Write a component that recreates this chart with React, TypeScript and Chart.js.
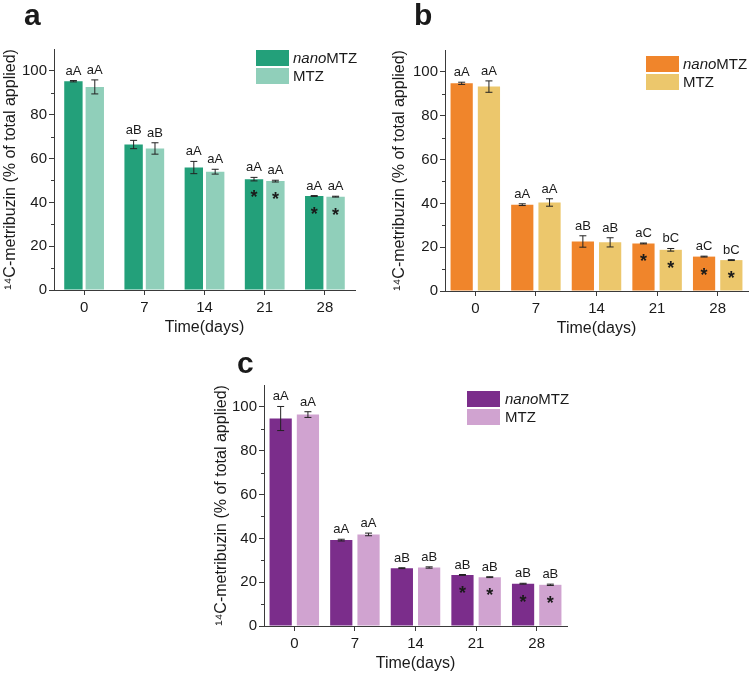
import React, { useEffect, useRef } from 'react';
import { Chart, registerables } from 'chart.js';

Chart.register(...registerables);

// ---------- data ----------
const days = ['0', '7', '14', '21', '28'];
const yTicks = [0, 20, 40, 60, 80, 100];
const yMinorTicks = [10, 30, 50, 70, 90];
const seriesNames = ['nanoMTZ', 'MTZ'];
const yTitle = '¹⁴C-metribuzin (% of total applied)';
const xTitle = 'Time(days)';

// panel a
const aNano = [95.3, 66.4, 55.9, 50.6, 42.9];
const aNanoErr = [0.3, 1.9, 2.8, 0.8, 0.2];
const aMtz = [92.7, 64.6, 54.0, 49.7, 42.6];
const aMtzErr = [3.2, 2.6, 1.1, 0.4, 0.2];
const aNanoLetters = ['aA', 'aB', 'aA', 'aA', 'aA'];
const aMtzLetters = ['aA', 'aB', 'aA', 'aA', 'aA'];
const aStars = [false, false, false, true, true];

// panel b
const bNano = [94.8, 39.4, 22.6, 21.7, 15.7];
const bNanoErr = [0.5, 0.4, 2.6, 0.2, 0.2];
const bMtz = [93.3, 40.4, 22.2, 18.8, 14.1];
const bMtzErr = [2.6, 1.7, 2.1, 0.6, 0.2];
const bNanoLetters = ['aA', 'aA', 'aB', 'aC', 'aC'];
const bMtzLetters = ['aA', 'aA', 'aB', 'bC', 'bC'];
const bStars = [false, false, false, true, true];

// panel c
const cNano = [94.7, 39.2, 26.4, 23.3, 19.3];
const cNanoErr = [5.5, 0.4, 0.2, 0.2, 0.2];
const cMtz = [96.5, 41.8, 26.7, 22.3, 18.8];
const cMtzErr = [1.3, 0.6, 0.3, 0.2, 0.3];
const cNanoLetters = ['aA', 'aA', 'aB', 'aB', 'aB'];
const cMtzLetters = ['aA', 'aA', 'aB', 'aB', 'aB'];
const cStars = [false, false, false, true, true];

// ---------- styling / layout ----------
const FONT = "'Liberation Sans', Arial, Helvetica, sans-serif";
const AXIS = '#3a3a3a';
const INK = '#1a1a1a';

type PanelCfg = {
  letter: string;
  left: number; top: number; width: number; height: number;
  area: { left: number; top: number; right: number; bottom: number };
  yTitlePad: number; xTitlePad: number;
  legend: { x: number; y: number; tx: number };
  letterPos: { x: number; y: number };
  colors: [string, string];
  catPct: number; barPct: number;
  nano: number[]; nanoErr: number[]; mtz: number[]; mtzErr: number[];
  nanoLetters: string[]; mtzLetters: string[]; stars: boolean[];
};

const panels: PanelCfg[] = [
  {
    letter: 'a', left: 0, top: 0, width: 375, height: 338,
    area: { left: 54, top: 49, right: 355, bottom: 290 },
    yTitlePad: 1, xTitlePad: 1,
    legend: { x: 256, y: 50, tx: 293 },
    letterPos: { x: 24, y: 25 },
    colors: ['#23a07a', '#90cfba'],
    catPct: 0.71, barPct: 0.86,
    nano: aNano, nanoErr: aNanoErr, mtz: aMtz, mtzErr: aMtzErr,
    nanoLetters: aNanoLetters, mtzLetters: aMtzLetters, stars: aStars,
  },
  {
    letter: 'b', left: 375, top: 0, width: 375, height: 338,
    area: { left: 70, top: 50, right: 373, bottom: 291 },
    yTitlePad: 15, xTitlePad: 0,
    legend: { x: 271, y: 56, tx: 308 },
    letterPos: { x: 39, y: 25 },
    colors: ['#f0852b', '#ecc76c'],
    catPct: 0.9, barPct: 0.815,
    nano: bNano, nanoErr: bNanoErr, mtz: bMtz, mtzErr: bMtzErr,
    nanoLetters: bNanoLetters, mtzLetters: bMtzLetters, stars: bStars,
  },
  {
    letter: 'c', left: 180, top: 338, width: 400, height: 336,
    area: { left: 84, top: 47, right: 387, bottom: 288 },
    yTitlePad: 32, xTitlePad: 1,
    legend: { x: 287, y: 53, tx: 325 },
    letterPos: { x: 57, y: 35 },
    colors: ['#7b2d8b', '#d0a3d0'],
    catPct: 0.9, barPct: 0.815,
    nano: cNano, nanoErr: cNanoErr, mtz: cMtz, mtzErr: cMtzErr,
    nanoLetters: cNanoLetters, mtzLetters: cMtzLetters, stars: cStars,
  },
];

function makePlugin(cfg: PanelCfg) {
  const errs = [cfg.nanoErr, cfg.mtzErr];
  const vals = [cfg.nano, cfg.mtz];
  const letters = [cfg.nanoLetters, cfg.mtzLetters];
  return {
    id: 'annot-' + cfg.letter,
    afterDatasetsDraw(chart: any) {
      const ctx = chart.ctx as CanvasRenderingContext2D;
      const ys = chart.scales.y;
      ctx.save();
      for (let d = 0; d < 2; d++) {
        const meta = chart.getDatasetMeta(d);
        meta.data.forEach((bar: any, i: number) => {
          const v = vals[d][i];
          const e = errs[d][i];
          const x = bar.x;
          const yHi = ys.getPixelForValue(v + e);
          const yLo = ys.getPixelForValue(v - e);
          // error bar
          ctx.strokeStyle = '#222';
          ctx.lineWidth = 1;
          ctx.beginPath();
          ctx.moveTo(x, yHi);
          ctx.lineTo(x, yLo);
          ctx.moveTo(x - 3.5, yHi);
          ctx.lineTo(x + 3.5, yHi);
          ctx.moveTo(x - 3.5, yLo);
          ctx.lineTo(x + 3.5, yLo);
          ctx.stroke();
          // significance letters
          ctx.fillStyle = INK;
          ctx.font = `13px ${FONT}`;
          ctx.textAlign = 'center';
          ctx.textBaseline = 'alphabetic';
          ctx.fillText(letters[d][i], x, Math.min(yHi, bar.y) - 6);
          // star
          if (cfg.stars[i]) {
            ctx.font = `bold 18px ${FONT}`;
            ctx.fillText('*', x, bar.y + 24);
          }
        });
      }
      ctx.restore();
    },
    afterDraw(chart: any) {
      const ctx = chart.ctx as CanvasRenderingContext2D;
      const ys = chart.scales.y;
      const left = chart.chartArea.left;
      ctx.save();
      // minor ticks
      ctx.strokeStyle = AXIS;
      ctx.lineWidth = 1;
      ctx.beginPath();
      yMinorTicks.forEach((v) => {
        const y = Math.round(ys.getPixelForValue(v)) + 0.5;
        ctx.moveTo(left - 3, y);
        ctx.lineTo(left, y);
      });
      ctx.stroke();
      // legend
      const { x, y, tx } = cfg.legend;
      ctx.fillStyle = cfg.colors[0];
      ctx.fillRect(x, y, 33, 16);
      ctx.fillStyle = cfg.colors[1];
      ctx.fillRect(x, y + 18, 33, 16);
      ctx.fillStyle = INK;
      ctx.textBaseline = 'middle';
      ctx.textAlign = 'left';
      ctx.font = `italic 15px ${FONT}`;
      const nanoPart = seriesNames[0].slice(0, 4);
      const restPart = seriesNames[0].slice(4);
      ctx.fillText(nanoPart, tx, y + 8.5);
      const w = ctx.measureText(nanoPart).width;
      ctx.font = `15px ${FONT}`;
      ctx.fillText(restPart, tx + w, y + 8.5);
      ctx.fillText(seriesNames[1], tx, y + 26.5);
      // panel letter
      ctx.font = `bold 30px ${FONT}`;
      ctx.textBaseline = 'alphabetic';
      ctx.fillText(cfg.letter, cfg.letterPos.x, cfg.letterPos.y);
      ctx.restore();
    },
  };
}

function Panel({ cfg }: { cfg: PanelCfg }) {
  const ref = useRef<HTMLCanvasElement>(null);
  useEffect(() => {
    const chart = new Chart(ref.current as HTMLCanvasElement, {
      type: 'bar',
      data: {
        labels: days,
        datasets: [
          {
            label: seriesNames[0],
            data: cfg.nano,
            backgroundColor: cfg.colors[0],
            borderWidth: 0,
            categoryPercentage: cfg.catPct,
            barPercentage: cfg.barPct,
          },
          {
            label: seriesNames[1],
            data: cfg.mtz,
            backgroundColor: cfg.colors[1],
            borderWidth: 0,
            categoryPercentage: cfg.catPct,
            barPercentage: cfg.barPct,
          },
        ],
      },
      options: {
        animation: false,
        responsive: false,
        devicePixelRatio: 1,
        layout: {
          padding: { left: 0, top: cfg.area.top, right: cfg.width - cfg.area.right, bottom: 0 },
        },
        plugins: { legend: { display: false }, tooltip: { enabled: false } },
        scales: {
          x: {
            offset: true,
            grid: { display: true, drawOnChartArea: false, offset: false, tickLength: 5, color: AXIS, tickWidth: 1 },
            border: { display: true, color: AXIS, width: 1 },
            ticks: { font: { family: FONT, size: 15 }, color: INK, padding: 4, maxRotation: 0 },
            title: { display: true, text: xTitle, font: { family: FONT, size: 16 }, color: INK, padding: { top: 0, bottom: cfg.xTitlePad } },
            afterFit: (s: any) => { s.height = cfg.height - cfg.area.bottom; },
          },
          y: {
            min: 0,
            max: 110,
            afterBuildTicks: (s: any) => { s.ticks = yTicks.map((v) => ({ value: v })); },
            grid: { display: true, drawOnChartArea: false, tickLength: 5, color: AXIS, tickWidth: 1 },
            border: { display: true, color: AXIS, width: 1 },
            ticks: { font: { family: FONT, size: 15 }, color: INK, padding: 2 },
            title: { display: true, text: yTitle, font: { family: FONT, size: 16 }, color: INK, padding: { top: cfg.yTitlePad, bottom: 0 } },
            afterFit: (s: any) => { s.width = cfg.area.left; },
          },
        },
      } as any,
      plugins: [makePlugin(cfg)],
    });
    return () => chart.destroy();
  }, []);
  return (
    <canvas
      ref={ref}
      width={cfg.width}
      height={cfg.height}
      style={{ position: 'absolute', left: cfg.left, top: cfg.top, width: cfg.width, height: cfg.height }}
    />
  );
}

export default function App() {
  return (
    <div style={{ position: 'absolute', left: 0, top: 0, width: 750, height: 674, background: '#fff', overflow: 'hidden' }}>
      {panels.map((p) => (
        <Panel key={p.letter} cfg={p} />
      ))}
    </div>
  );
}
